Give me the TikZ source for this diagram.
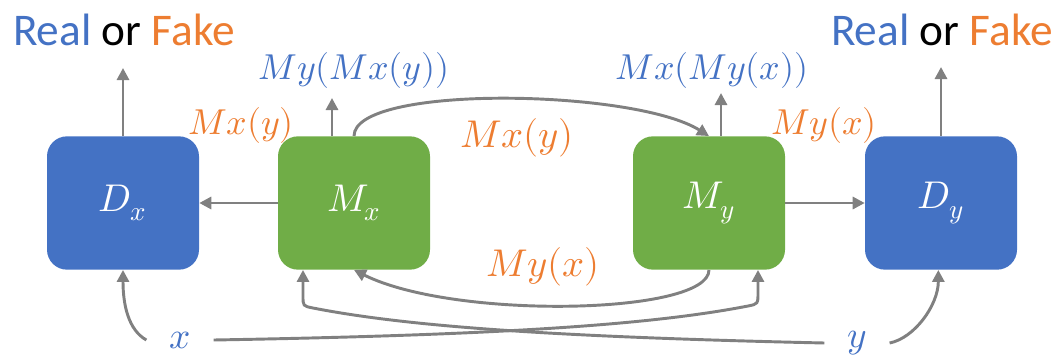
\documentclass[tikz,border=0pt]{standalone}
\usepackage{fontspec}
\usepackage{unicode-math}
\usetikzlibrary{arrows.meta}

\newfontfamily\calfont{Carlito}
\definecolor{dblue}{HTML}{4472C4}
\definecolor{mgreen}{HTML}{70AD47}
\definecolor{forange}{HTML}{ED7D31}
\definecolor{linkgray}{HTML}{808080}

\begin{document}
\begin{tikzpicture}[
  x = 0.75pt, y = -0.75pt,
  block/.style = {rounded corners = 15pt, minimum width = 114pt, minimum height = 100pt,
                  text = white, font = \fontsize{29}{34}\selectfont},
  disc/.style = {block, fill = dblue},
  gen/.style = {block, fill = mgreen},
  link/.style = {draw = linkgray, line width = 2.2pt, -{Triangle[length = 9pt, width = 9pt]}},
  verdict/.style = {font = \calfont\fontsize{34}{40}\selectfont, anchor = base},
  fn/.style = {font = \fontsize{27}{32}\selectfont},
  src/.style = {text = dblue, inner xsep = 17pt, font = \fontsize{28}{32}\selectfont},
  ]
  \useasboundingbox (0,0) rectangle (1059,358);

  % discriminators and mappings
  \node[disc] (Dx) at (123,203) {$D_x$};
  \node[gen]  (Mx) at (354,203) {$M_x$};
  \node[gen]  (My) at (709,203) {$M_y$};
  \node[disc] (Dy) at (941,203) {$D_y$};

  % outputs
  \node[verdict] (vx) at (124,45) {\textcolor{dblue}{Real} or \textcolor{forange}{Fake}};
  \node[verdict] (vy) at (942,45) {\textcolor{dblue}{Real} or \textcolor{forange}{Fake}};
  \node[fn, text = dblue] (cycY) at (354,70) {$My(Mx(y))$};
  \node[fn, text = dblue] (cycX) at (712,70) {$Mx(My(x))$};
  \node[fn, text = forange] (fakeX) at (241,125) {$Mx(y)$};
  \node[fn, text = forange] (fakeY) at (824,125) {$My(x)$};
  \node[fn, text = forange, font = \fontsize{29}{34}\selectfont] (passY) at (517,138) {$Mx(y)$};
  \node[fn, text = forange, font = \fontsize{29}{34}\selectfont] (passX) at (543,267) {$My(x)$};

  % inputs
  \node[src] (xin) at (180,340) {$x$};
  \node[src] (yin) at (857,343) {$y$};

  \coordinate (vxTip) at (123,68);
  \coordinate (vyTip) at (941,67);
  \coordinate (mxTip) at (332,98);
  \coordinate (myTip) at (721,93);

  \draw[link] (Dx.north) -- (vxTip);
  \draw[link] (Dy.north) -- (vyTip);
  \draw[link] (mxTip |- Mx.north) -- (mxTip);
  \draw[link] (myTip |- My.north) -- (myTip);

  \draw[link] (Mx) -- (Dx);
  \draw[link] (My) -- (Dy);

  \draw[link] (Mx.north) .. controls +(0,-52) and +(-75,-47) .. (My.north);
  \draw[link] (My.south) .. controls +(0,45) and +(100,50) .. (Mx.south);

  \draw[link] (xin.west) .. controls +(-18,-10) and +(0,35) .. (Dx.south);
  \draw[link] (yin.east) .. controls +(25,-5) and +(0,35) .. ([xshift=-2pt]Dy.south);

  % crossing inputs
  \draw[link] (xin.east) .. controls (500,335) and (650,325) .. (748,306)
    .. controls (758,304) .. (758,292) -- ([xshift=36.75pt]My.south);
  \draw[link] (yin.west) .. controls (560,337) and (410,327) .. (313,308)
    .. controls (303,306) .. (303,296) -- ([xshift=-38.25pt]Mx.south);
\end{tikzpicture}
\end{document}
